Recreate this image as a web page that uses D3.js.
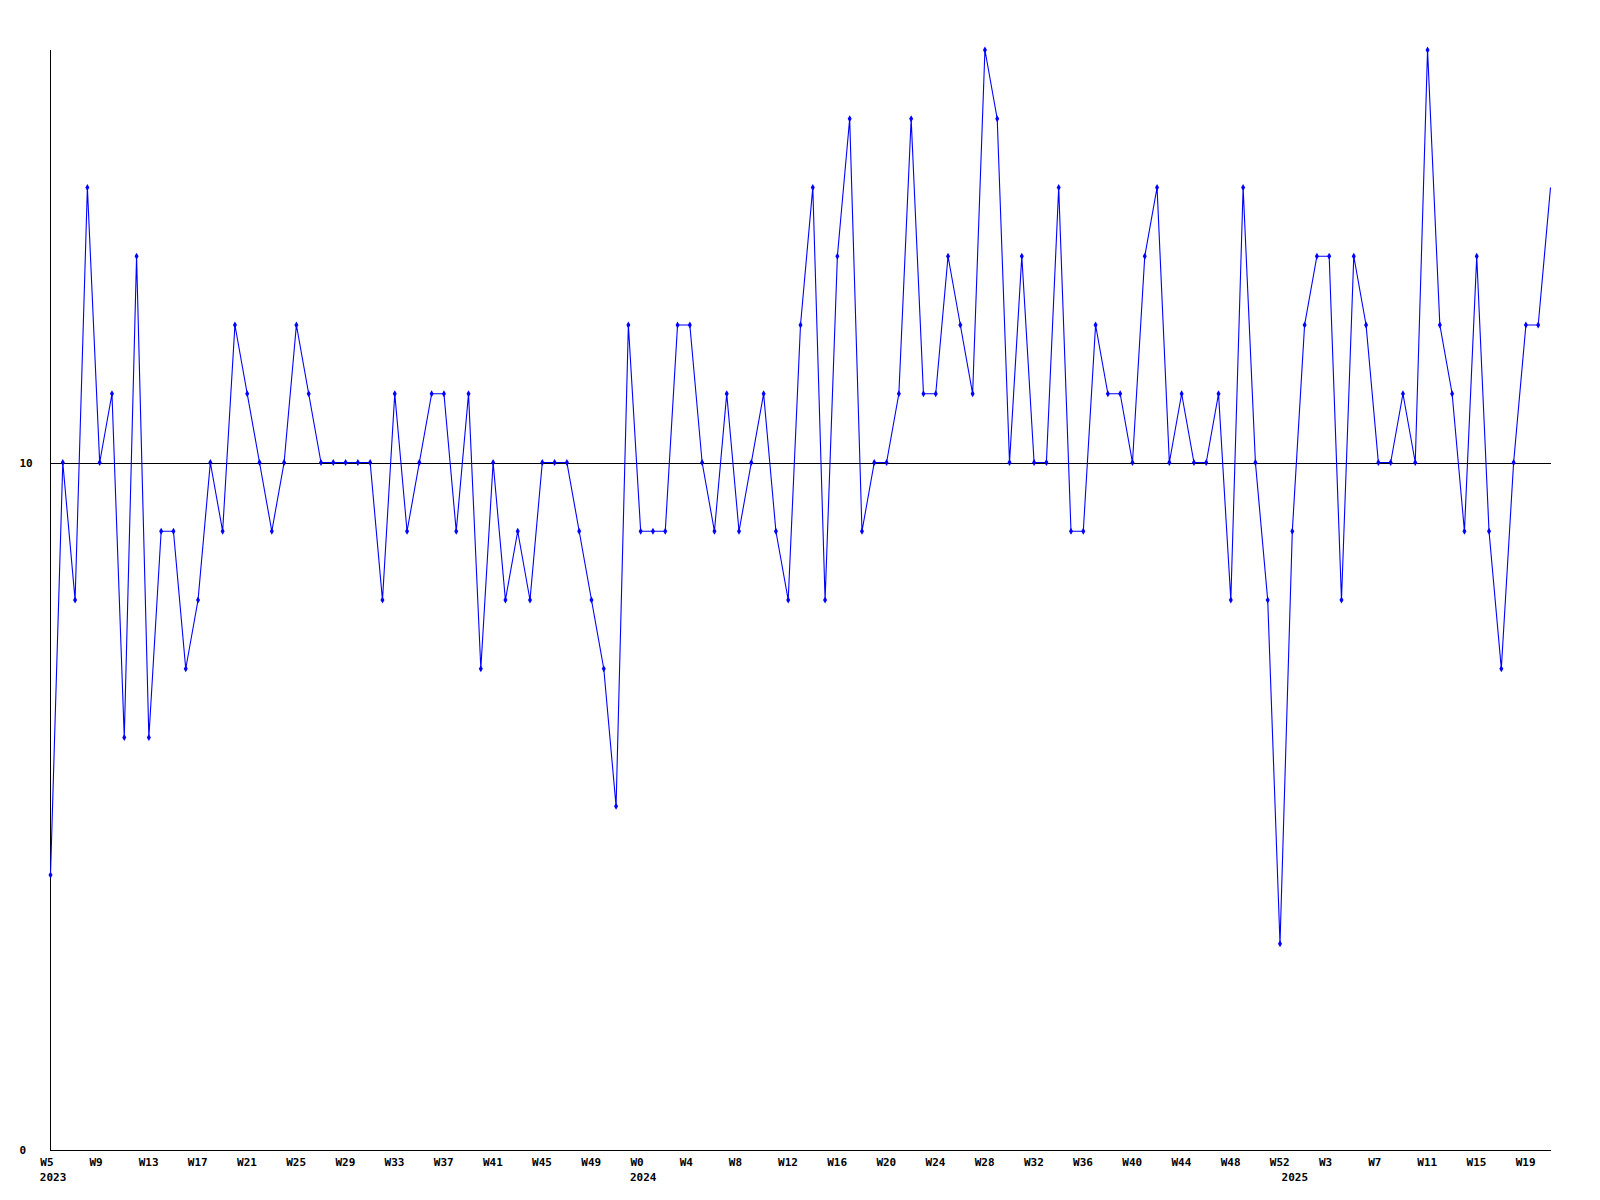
<!DOCTYPE html>
<html>
<head>
<meta charset="utf-8">
<script src="https://cdn.jsdelivr.net/npm/d3@7"></script>
<style>
  html, body { margin: 0; padding: 0; background: #ffffff; }
  svg { display: block; }
  text { font-family: "DejaVu Sans Mono", "Liberation Mono", monospace; font-weight: bold; font-size: 11px; fill: #000; }
</style>
</head>
<body>
<script>
// Week ranges per year (x categories)
const years = [2023, 2024, 2025];
const firstWeek = [5, 0, 0];
const lastWeek = [52, 52, 21];

// Series values, one per week
const values = [
  4, 10, 8, 14, 10, 11, 6, 13, 6, 9,
  9, 7, 8, 10, 9, 12, 11, 10, 9, 10,
  12, 11, 10, 10, 10, 10, 10, 8, 11, 9,
  10, 11, 11, 9, 11, 7, 10, 8, 9, 8,
  10, 10, 10, 9, 8, 7, 5, 12, 9, 9,
  9, 12, 12, 10, 9, 11, 9, 10, 11, 9,
  8, 12, 14, 8, 13, 15, 9, 10, 10, 11,
  15, 11, 11, 13, 12, 11, 16, 15, 10, 13,
  10, 10, 14, 9, 9, 12, 11, 11, 10, 13,
  14, 10, 11, 10, 10, 11, 8, 14, 10, 8,
  3, 9, 12, 13, 13, 8, 13, 12, 10, 10,
  11, 10, 16, 12, 11, 9, 13, 9, 7, 10,
  12, 12, 14
];

const yTickValues = [0, 10];
const referenceValue = 10;
const yDomain = [0, 16];
const labelEvery = 4;

// Build categories
const categories = [];
years.forEach((y, k) => {
  for (let w = firstWeek[k]; w <= lastWeek[k]; w++) categories.push({ year: y, week: w });
});
const data = categories.map((c, i) => ({ i, year: c.year, week: c.week, value: values[i] }));

const W = 1600, H = 1200;
const svg = d3.select("body").append("svg").attr("width", W).attr("height", H);
svg.append("rect").attr("width", W).attr("height", H).attr("fill", "#fff");

const x = d3.scaleLinear().domain([0, data.length - 1]).range([50.5, 1550.5]);
const y = d3.scaleLinear().domain(yDomain).range([1150, 50]);

// Reference line at 10
svg.append("line")
  .attr("x1", x(0)).attr("x2", x(data.length - 1))
  .attr("y1", Math.round(y(referenceValue)) + 0.5).attr("y2", Math.round(y(referenceValue)) + 0.5)
  .attr("stroke", "#000").attr("stroke-width", 1).attr("shape-rendering", "crispEdges");

// Axes
svg.append("line").attr("x1", 50.5).attr("x2", 50.5).attr("y1", y(yDomain[1])).attr("y2", y(0))
  .attr("stroke", "#000").attr("stroke-width", 1).attr("shape-rendering", "crispEdges");
svg.append("line").attr("x1", 50).attr("x2", x(data.length - 1)).attr("y1", 1150.5).attr("y2", 1150.5)
  .attr("stroke", "#000").attr("stroke-width", 1).attr("shape-rendering", "crispEdges");

// Y tick labels
svg.append("g").selectAll("text").data(yTickValues).join("text")
  .attr("x", 19.5)
  .attr("y", d => y(d) + 4)
  .attr("text-anchor", "start")
  .text(d => d);

// X axis labels via d3 axis
const tickIdx = data.filter(d => d.i % labelEvery === 0).map(d => d.i);
const xAxis = d3.axisBottom(x).tickValues(tickIdx).tickSize(0).tickPadding(0)
  .tickFormat(i => "W" + data[i].week);
const gx = svg.append("g").attr("transform", "translate(0,1150)").call(xAxis);
gx.select(".domain").remove();
gx.selectAll("text")
  .attr("text-anchor", "start")
  .attr("dx", -10.7)
  .attr("y", 16)
  .attr("dy", 0)
  .style("font-family", '"DejaVu Sans Mono", monospace')
  .style("font-weight", "bold")
  .style("font-size", "11px")
  .attr("fill", "#000");

// Year labels at first week of each year
const yearStartIdx = years.map(yr => data.find(d => d.year === yr).i);
svg.append("g").selectAll("text").data(yearStartIdx).join("text")
  .attr("x", i => x(i) - 10.7)
  .attr("y", 1181)
  .attr("text-anchor", "start")
  .text(i => data[i].year);

// Series line
const line = d3.line().x(d => x(d.i)).y(d => y(d.value));
svg.append("path").datum(data)
  .attr("d", line)
  .attr("fill", "none")
  .attr("stroke", "#0000ff")
  .attr("stroke-width", 1.1);

// Markers
svg.append("g").selectAll("path").data(data.slice(0, data.length - 1)).join("path")
  .attr("transform", d => `translate(${x(d.i)},${y(d.value)})`)
  .attr("d", d3.symbol(d3.symbolDiamond).size(14))
  .attr("fill", "#0000ff");
</script>
</body>
</html>
